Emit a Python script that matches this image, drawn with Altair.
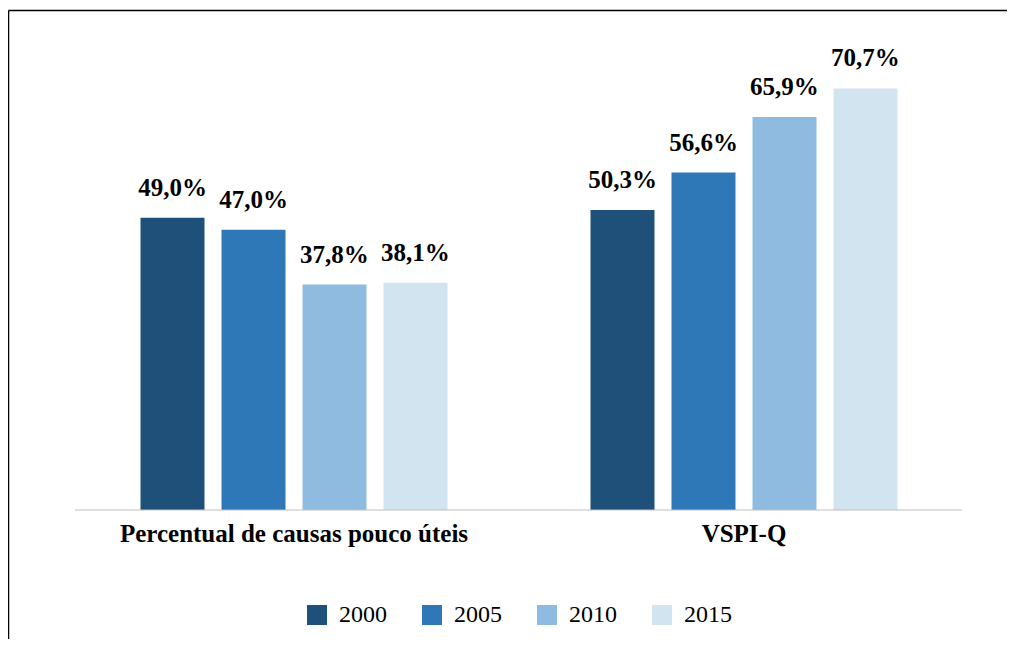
import altair as alt
import pandas as pd

categories = ["Percentual de causas pouco úteis", "VSPI-Q"]
years = ["2000", "2005", "2010", "2015"]
values_causas = [49.0, 47.0, 37.8, 38.1]
values_vspi = [50.3, 56.6, 65.9, 70.7]
colors = ["#1F5079", "#2E78B7", "#8FBBE0", "#D3E4F1"]

rows = []
for cat, vals in zip(categories, [values_causas, values_vspi]):
    for yr, v in zip(years, vals):
        rows.append({"categoria": cat, "ano": yr, "valor": v,
                     "rotulo": f"{v:.1f}".replace(".", ",") + "%"})
df = pd.DataFrame(rows)
base_df = pd.DataFrame({"v": [0]})

FONT = "'Liberation Serif', 'Times New Roman', 'DejaVu Serif', serif"
yscale = alt.Scale(domain=[0, 80.5], nice=False, zero=True)

x = alt.X("categoria:N", sort=categories,
          scale=alt.Scale(paddingInner=0, paddingOuter=0),
          axis=alt.Axis(title=None, labelAngle=0, domain=False, ticks=False, tickSize=0,
                        labelPadding=31, labelBaseline="alphabetic", labelFont=FONT,
                        labelFontSize=25, labelFontWeight="bold", labelColor="#000000",
                        labelLimit=0))
xoff = alt.XOffset("ano:N", sort=years,
                   scale=alt.Scale(paddingInner=0.21, paddingOuter=0.8828))
y = alt.Y("valor:Q", scale=yscale, axis=None)
color = alt.Color("ano:N", sort=years,
                  scale=alt.Scale(domain=years, range=colors),
                  legend=alt.Legend(title=None, orient="none", legendX=236, legendY=573,
                                    direction="horizontal", columns=4, symbolType="square",
                                    symbolSize=400, symbolStrokeWidth=0, symbolOpacity=1,
                                    labelFont=FONT, labelFontSize=24, labelColor="#000000",
                                    labelOffset=10, columnPadding=33, padding=0))

# decorative frame lines (top and left), kept inside the drawing
frame_top = alt.Chart(base_df).mark_rule(color="#000000", strokeWidth=1.5).encode(
    x=alt.value(-60.5), x2=alt.value(938), y=alt.value(-19.5))
frame_left = alt.Chart(base_df).mark_rule(color="#000000", strokeWidth=1.5).encode(
    x=alt.value(-60.5), y=alt.value(-19.5), y2=alt.value(609))

bars = alt.Chart(df).mark_bar(opacity=1).encode(x=x, xOffset=xoff, y=y, color=color)

labels = alt.Chart(df).mark_text(font=FONT, fontSize=25, fontWeight="bold", color="#000000",
                                 dy=-22, baseline="alphabetic", align="center").encode(
    x=x, xOffset=xoff, y=y, text="rotulo:N")

baseline = alt.Chart(base_df).mark_rule(color="#BFBFBF", strokeWidth=1.2).encode(
    y=alt.Y("v:Q", scale=yscale, axis=None), x=alt.value(6), x2=alt.value(893))

chart = alt.layer(frame_top, frame_left, bars, labels, baseline).properties(
    width=900, height=480,
    padding={"left": 61, "top": 22, "right": 39, "bottom": 130},
    autosize=alt.AutoSizeParams(type="none"),
).configure_view(stroke=None)

chart.save("out.html", embed_options={"renderer": "svg", "actions": False})
